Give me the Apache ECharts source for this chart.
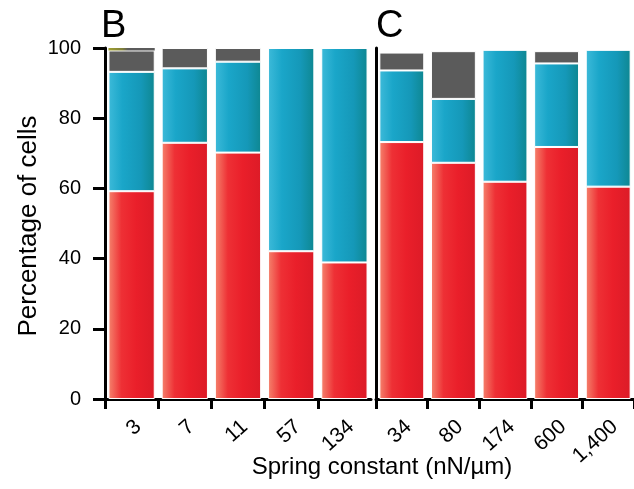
<!DOCTYPE html>
<html>
<head>
<meta charset="utf-8">
<script src="https://cdn.jsdelivr.net/npm/echarts@6/dist/echarts.min.js"></script>
<style>
  html, body { margin: 0; padding: 0; background: #fff; }
  #chart { width: 634px; height: 489px; }
</style>
</head>
<body>
<div id="chart"></div>
<script>
// Spring-constant categories for the two panels
const categoriesB = ['3', '7', '11', '57', '134'];
const categoriesC = ['34', '80', '174', '600', '1,400'];

// Percentage of cells per category (stacked bottom to top)
const redB = [59.2, 73.0, 70.2, 42.1, 38.9];
const blueB = [34.0, 21.2, 25.9, 57.9, 61.1];
const grayB = [6.1, 5.8, 3.9, 0, 0];
const oliveB = [0.7, 0, 0, 0, 0];

const redC = [73.2, 67.3, 61.9, 71.8, 60.5];
const blueC = [20.4, 18.2, 37.6, 23.8, 39.0];
const grayC = [5.1, 13.6, 0, 3.5, 0];
const oliveC = [0, 0, 0, 0, 0];

const FONT = '"Liberation Sans", Arial, Helvetica, sans-serif';

const grad = (stops) => new echarts.graphic.LinearGradient(0, 0, 1, 0,
  stops.map(([o, c]) => ({ offset: o, color: c })));

const redFill = grad([[0, '#f5836d'], [0.28, '#ee3035'], [0.6, '#ea1f2a'], [1, '#dc1b27']]);
const blueFill = grad([[0, '#3dbad9'], [0.3, '#1aa6c9'], [0.7, '#1598b8'], [1, '#0e8791']]);
const grayFill = '#5b5b5b';
const oliveFill = grad([[0, '#a0a030'], [0.3, '#7f7f3a'], [0.42, '#5b5b5b'], [1, '#5b5b5b']]);

function stack(name, data, fill, xi, stackId, border) {
  return {
    name: name,
    type: 'bar',
    stack: stackId,
    xAxisIndex: xi,
    yAxisIndex: xi,
    data: data,
    barCategoryGap: '13%',
    itemStyle: { color: fill, borderColor: '#fff', borderWidth: border },
    emphasis: { disabled: true },
    silent: true
  };
}

const catLabel = () => ({
  rotate: 42,
  margin: 31,
  padding: [0, -9, 0, 0],
  color: '#000',
  fontSize: 21,
  fontFamily: FONT,
  interval: 0
});

const titleStyle = { fontSize: 38, fontWeight: 'normal', color: '#000', fontFamily: FONT };

const option = {
  animation: false,
  backgroundColor: '#fff',
  title: [
    { text: 'B', left: 96, top: 3, textStyle: titleStyle },
    { text: 'C', left: 371, top: 3, textStyle: titleStyle }
  ],
  grid: [
    { left: 105, top: 48, width: 266, height: 351 },
    { left: 376, top: 48, width: 267, height: 351 }
  ],
  xAxis: [
    {
      type: 'category', gridIndex: 0, data: categoriesB,
      axisLine: { lineStyle: { color: '#000', width: 3 } },
      axisTick: { show: false },
      axisLabel: catLabel()
    },
    {
      type: 'category', gridIndex: 1, data: categoriesC,
      axisLine: { lineStyle: { color: '#000', width: 3 } },
      axisTick: { show: true, length: 10, lineStyle: { color: '#000', width: 3 } },
      axisLabel: catLabel()
    },
    {
      // tick marks at the category boundaries of the left panel
      type: 'value', gridIndex: 0, min: 0, max: 5, interval: 1, position: 'bottom',
      axisLine: { show: false }, axisLabel: { show: false }, splitLine: { show: false },
      axisTick: { show: true, length: 10, customValues: [0, 1, 2, 3, 4], lineStyle: { color: '#000', width: 3 } }
    }
  ],
  yAxis: [
    {
      type: 'value', gridIndex: 0, min: 0, max: 100, interval: 20,
      axisLine: { show: true, onZero: false, lineStyle: { color: '#000', width: 3 } },
      axisTick: { show: true, inside: false, length: 12, lineStyle: { color: '#000', width: 3 } },
      axisLabel: { margin: 24, color: '#000', fontSize: 20, fontFamily: FONT },
      splitLine: { show: false }
    },
    {
      type: 'value', gridIndex: 1, min: 0, max: 100, interval: 20,
      axisLine: { show: true, onZero: false, lineStyle: { color: '#000', width: 3 } },
      axisTick: { show: false }, axisLabel: { show: false }, splitLine: { show: false }
    },
    {
      // percentage tick marks, drawn from a helper axis shifted 12px left
      type: 'value', gridIndex: 0, min: 0, max: 100, interval: 20, position: 'left', offset: 12,
      axisLine: { show: true, onZero: false, lineStyle: { color: '#000', width: 0, opacity: 0 } },
      axisTick: { show: true, inside: true, length: 12, lineStyle: { color: '#000', width: 3 } },
      axisLabel: { show: false }, splitLine: { show: false }
    }
  ],
  graphic: [
    {
      type: 'text', x: 382, y: 467,
      style: {
        text: 'Spring constant (nN/µm)', fontSize: 24, fill: '#000', fontFamily: FONT,
        align: 'center', verticalAlign: 'middle'
      }
    },
    {
      type: 'text', x: 29, y: 226, rotation: Math.PI / 2,
      style: {
        text: 'Percentage of cells', fontSize: 26, fill: '#000', fontFamily: FONT,
        align: 'center', verticalAlign: 'middle'
      }
    }
  ],
  series: [
    stack('red', redB, redFill, 0, 'b', 1),
    stack('blue', blueB, blueFill, 0, 'b', 1),
    stack('gray', grayB, grayFill, 0, 'b', 1),
    stack('olive', oliveB, oliveFill, 0, 'b', 0),
    stack('red', redC, redFill, 1, 'c', 1),
    stack('blue', blueC, blueFill, 1, 'c', 1),
    stack('gray', grayC, grayFill, 1, 'c', 1),
    stack('olive', oliveC, oliveFill, 1, 'c', 0)
  ]
};

const chart = echarts.init(document.getElementById('chart'), null, { renderer: 'canvas' });
chart.setOption(option);
</script>
</body>
</html>
